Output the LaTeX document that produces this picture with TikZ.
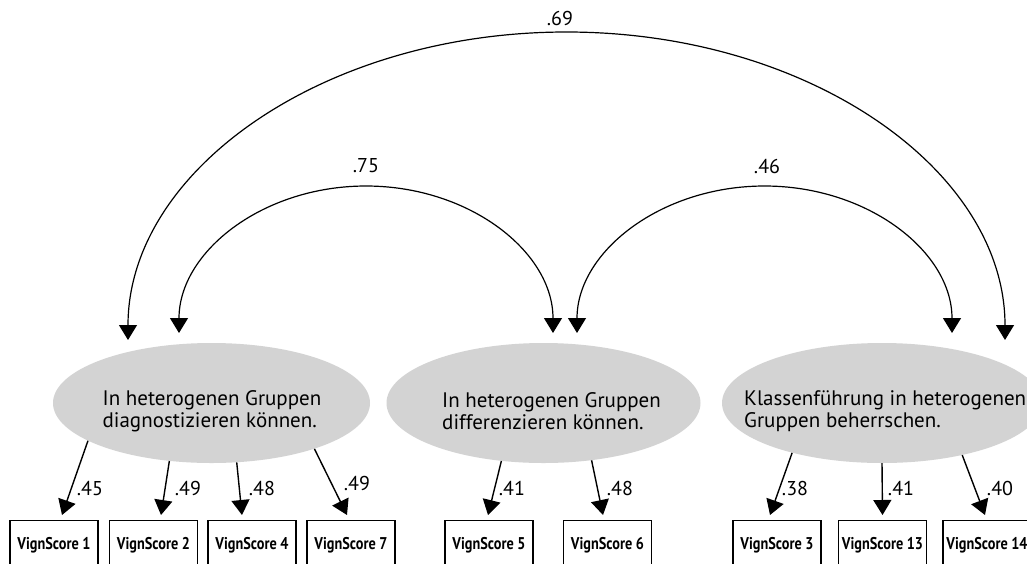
\documentclass[tikz,border=0pt]{standalone}
\usepackage{fontspec}
\setmainfont{PT Sans}
\newfontfamily\boxfont[FakeStretch=0.84]{PT Sans}
\usetikzlibrary{arrows.meta,shapes.geometric,calc}
\definecolor{latentfill}{RGB}{211,211,211}

\begin{document}
\begin{tikzpicture}[x=1pt,y=-1pt,
  latentvar/.style={ellipse, fill=latentfill, draw=none, inner sep=0pt,
    minimum width=317pt, minimum height=120pt},
  lvtext/.style={align=left, inner sep=0pt, font=\fontsize{21}{22.5}\selectfont},
  indicator/.style={draw, line width=1.2pt, anchor=north, inner sep=0pt,
    minimum width=88pt, minimum height=50pt, font=\boxfont\bfseries\fontsize{17}{19}\selectfont},
  loading/.style={line width=1.4pt, -{Triangle[width=18pt,length=15pt]}},
  corr/.style={line width=1.2pt, {Triangle[width=18pt,length=15pt]}-{Triangle[width=18pt,length=15pt]}},
  coef/.style={inner sep=0pt, font=\fontsize{20}{22}\selectfont}
]
\useasboundingbox (0,0) rectangle (1027,563);

% latent factors
\node[latentvar] (e1) at (211.5,403) {};
\node[latentvar, minimum width=314pt] (e2) at (543.5,403) {};
\node[latentvar, minimum width=320pt] (e3) at (882,403) {};
\node[lvtext] (t1) at (212,411) {In heterogenen Gruppen\\diagnostizieren können.};
\node[lvtext, anchor=west] (t2) at (442,411) {In heterogenen Gruppen\\differenzieren können.};
\node[lvtext, anchor=west] (t3) at (744,411) {Klassenführung in heterogenen\\Gruppen beherrschen.};

% observed indicators
\node[indicator] (b1)  at (54,520)    {VignScore 1};
\node[indicator] (b2)  at (153.5,520) {VignScore 2};
\node[indicator] (b4)  at (252,520)   {VignScore 4};
\node[indicator] (b7)  at (351,520)   {VignScore 7};
\node[indicator] (b5)  at (489,520)   {VignScore 5};
\node[indicator] (b6)  at (607.5,520) {VignScore 6};
\node[indicator] (b3)  at (777,520)   {VignScore 3};
\node[indicator] (b13) at (882.5,520) {VignScore 13};
\node[indicator] (b14) at (987,520)   {VignScore 14};

% factor loadings
\draw[loading] (e1.197.7) -- ($(b1.north)+(8,-5)$);
\draw[loading] (e1.234.5) -- ($(b2.north)+(7.5,-5)$);
\draw[loading] (e1.-67.3) -- ($(b4.north)+(-10,-5)$);
\draw[loading] (e1.-24.4) -- ($(b7.north)+(-4,-5)$);
\draw[loading] (e2.234.1) -- ($(b5.north)+(-1,-5)$);
\draw[loading] (e2.-50.5) -- ($(b6.north)+(-4.5,-5)$);
\draw[loading] (e3.209)   -- ($(b3.north)+(-7,-5)$);
\draw[loading] (e3.270)   -- ($(b13.north)+(0,-5)$);
\draw[loading] (e3.-33)   -- ($(b14.north)+(-2,-5)$);

\node[coef] (l1)  at (90,488)  {.45};
\node[coef] (l2)  at (188,488) {.49};
\node[coef] (l4)  at (262,488) {.48};
\node[coef] (l7)  at (357,483) {.49};
\node[coef] (l5)  at (512,488) {.41};
\node[coef] (l6)  at (620,488) {.48};
\node[coef] (l3)  at (795,488) {.38};
\node[coef] (l13) at (901,488) {.41};
\node[coef] (l14) at (1000,488) {.40};

% factor correlations
\coordinate (c12) at (179,333);
\coordinate (c23) at (577,333);
\coordinate (c13) at (128,340);
\draw[corr] (c12) arc[start angle=180, end angle=0, x radius=187pt, y radius=147pt];
\draw[corr] (c23) arc[start angle=180, end angle=0, x radius=187.5pt, y radius=147pt];
\draw[corr] (c13) arc[start angle=180, end angle=0, x radius=438.5pt, y radius=308pt];
\node[coef] (r12) at (366,166) {.75};
\node[coef] (r23) at (767,166) {.46};
\node[coef] (r13) at (560,18)  {.69};
\end{tikzpicture}
\end{document}
